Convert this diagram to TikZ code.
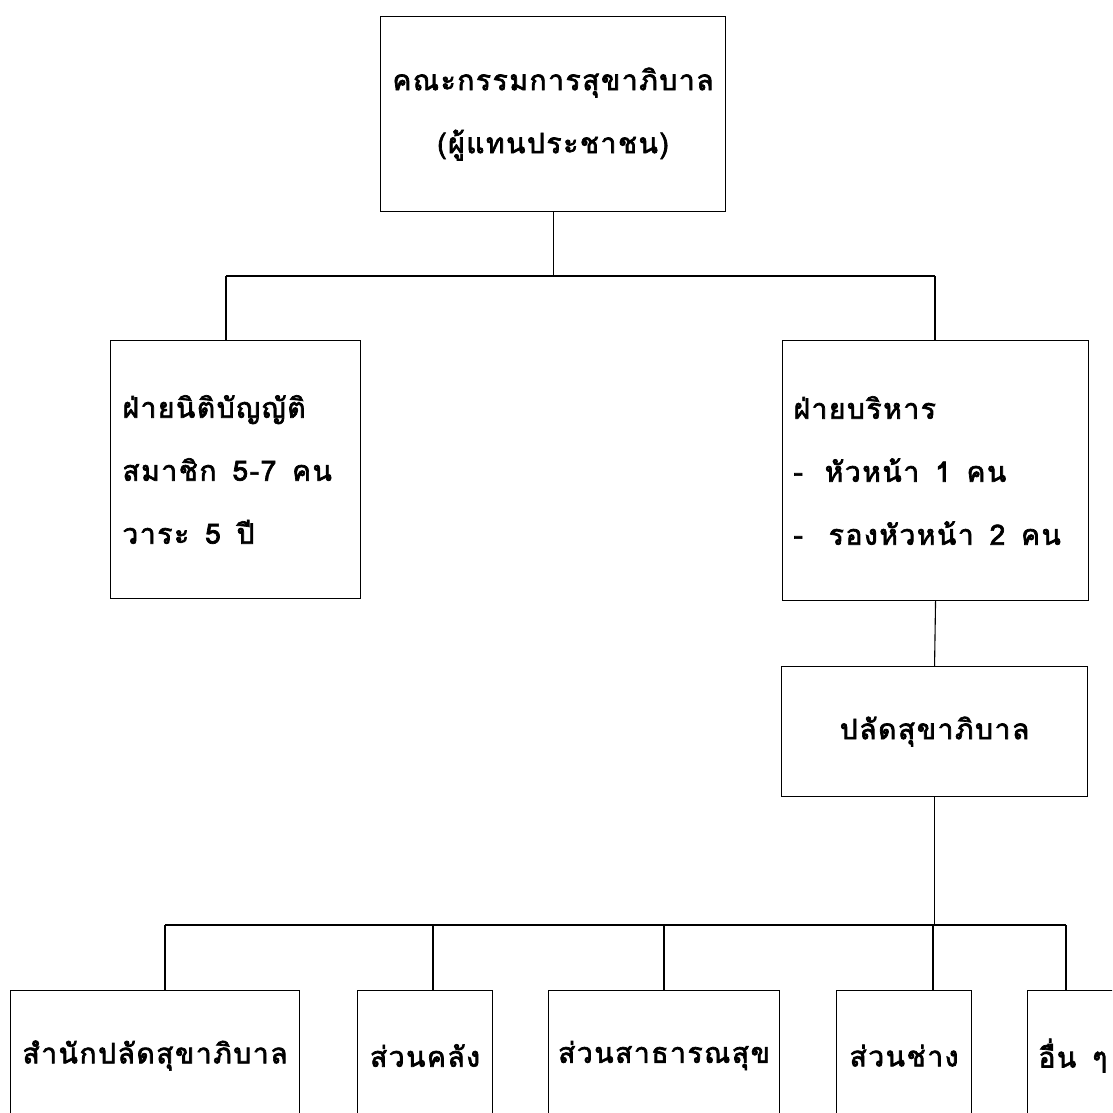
\documentclass[tikz,border=0pt]{standalone}
\usepackage{fontspec}
\newfontfamily\thaifont[Script=Thai,LetterSpace=6,FakeBold=2.5]{Loma}
\newcommand{\gapp}{\hspace{16pt}}
\begin{document}
\begin{tikzpicture}[x=1pt,y=-1pt,
  box/.style={draw, line width=1.1pt, rectangle, inner sep=0pt,
    font=\thaifont\fontsize{28}{63}\selectfont},
  conn/.style={line width=1.1pt}]
\clip (0,0) rectangle (1112,1113);
\fill[white] (0,0) rectangle (1112,1113);
% top
\node[box, anchor=north west, text width=345pt, minimum height=195pt, align=center] (top) at (380,16)
  {คณะกรรมการสุขาภิบาล\\(ผู้แทนประชาชน)};
% second level
\node[box, anchor=north west, text width=226pt, inner xsep=12pt, minimum height=258pt, align=left] (leg) at (110,340)
  {ฝ่ายนิติบัญญัติ\\สมาชิก\gapp 5-7\gapp คน\\วาระ\gapp 5\gapp ปี};
\node[box, anchor=north west, text width=284pt, inner xsep=11pt, minimum height=260pt, align=left] (exe) at (782,340)
  {ฝ่ายบริหาร\\-\hspace{22pt}หัวหน้า\gapp 1\gapp คน\\-\hspace{26pt}รองหัวหน้า\gapp 2\gapp คน};
\node[box, anchor=north west, text width=306pt, minimum height=130pt, align=center] (palad) at (781,666)
  {ปลัดสุขาภิบาล};
% bottom level
\node[box, anchor=north west, minimum width=289pt, minimum height=130pt] (u1) at (10,990) {สำนักปลัดสุขาภิบาล};
\node[box, anchor=north west, minimum width=135pt, minimum height=130pt] (u2) at (357,990) {ส่วนคลัง};
\node[box, anchor=north west, minimum width=231pt, minimum height=130pt] (u3) at (548,990) {ส่วนสาธารณสุข};
\node[box, anchor=north west, minimum width=135pt, minimum height=130pt] (u4) at (836,990) {ส่วนช่าง};
\node[box, anchor=north west, text width=150pt, inner xsep=11pt, minimum height=130pt, align=left] (u5) at (1027,990) {อื่น\gapp ๆ};
% connectors
\coordinate (tL) at (226,276);
\coordinate (tR) at (935,276);
\draw[conn] (top.south) -- (top.south |- tL);
\draw[conn] (tL) -- (tR);
\draw[conn] (tL) -- (tL |- leg.north);
\draw[conn] (tR) -- (tR |- exe.north);
\draw[conn] (exe.south) -- (palad.north);
\coordinate (b1) at (165,925);
\coordinate (b2) at (433,925);
\coordinate (b3) at (664,925);
\coordinate (b4) at (933,925);
\coordinate (b5) at (1066,925);
\draw[conn] (palad.south) -- (palad.south |- b1);
\draw[conn] (b1) -- (b5);
\draw[conn] (b1) -- (b1 |- u1.north);
\draw[conn] (b2) -- (b2 |- u2.north);
\draw[conn] (b3) -- (b3 |- u3.north);
\draw[conn] (b4) -- (b4 |- u4.north);
\draw[conn] (b5) -- (b5 |- u5.north);
\end{tikzpicture}
\end{document}
